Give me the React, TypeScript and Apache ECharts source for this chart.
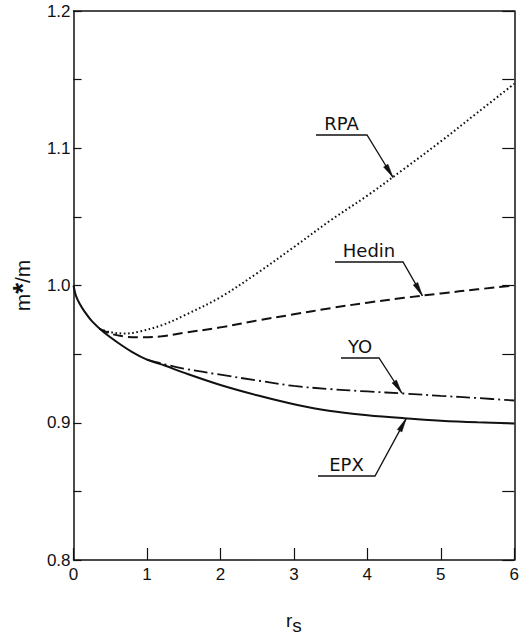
import React, { useEffect, useRef } from "react";
import * as echarts from "echarts";

// r_s tick labels
const rsTicks = [0, 1, 2, 3, 4, 5, 6];
// m*/m tick labels
const mTicks = [0.8, 0.9, 1.0, 1.1, 1.2];

// Series values: [r_s, m*/m]
const epx: [number, number][] = [
  [0, 1.0], [0.03, 0.993], [0.08, 0.987], [0.15, 0.981], [0.25, 0.974],
  [0.4, 0.9665], [0.6, 0.9585], [0.8, 0.9515], [1.0, 0.946], [1.25, 0.9415],
  [1.5, 0.9365], [2.0, 0.9275], [2.5, 0.92], [3.0, 0.9135], [3.5, 0.9085],
  [4.0, 0.9055], [4.5, 0.9033], [5.0, 0.9015], [5.5, 0.9003], [6.0, 0.8995],
];
const yo: [number, number][] = [
  [1.0, 0.946], [1.25, 0.9425], [1.5, 0.9395], [2.0, 0.935], [2.5, 0.9308],
  [3.0, 0.9268], [3.5, 0.9245], [4.0, 0.9228], [4.5, 0.9213], [5.0, 0.9196],
  [5.5, 0.918], [6.0, 0.9162],
];
const hedin: [number, number][] = [
  [0.35, 0.9685], [0.5, 0.965], [0.7, 0.9628], [0.9, 0.9622], [1.2, 0.963],
  [1.5, 0.9655], [2.0, 0.9695], [2.5, 0.9745], [3.0, 0.979], [3.5, 0.9835],
  [4.0, 0.9875], [4.5, 0.991], [5.0, 0.9942], [5.5, 0.9972], [6.0, 1.0],
];
const rpa: [number, number][] = [
  [0.35, 0.9685], [0.5, 0.966], [0.7, 0.965], [0.9, 0.9665], [1.2, 0.971],
  [1.5, 0.978], [2.0, 0.9915], [2.5, 1.009], [3.0, 1.028], [3.5, 1.0475],
  [4.0, 1.0655], [4.5, 1.085], [5.0, 1.105], [5.5, 1.126], [6.0, 1.147],
];

// Annotation labels and the data point each arrow points to
const labelNames = ["RPA", "Hedin", "YO", "EPX"];
const arrowTargets: [number, number][] = [
  [4.35, 1.0787], [4.75, 0.9924], [4.47, 0.9215], [4.53, 0.9032],
];

// layout of annotation labels (pixels): underline x0, x1, y
const labelLayout = [
  { x0: 316, x1: 367, y: 135 },
  { x0: 335, x1: 403, y: 262 },
  { x0: 341, x1: 379, y: 358 },
  { x0: 318, x1: 375, y: 476 },
];

const INK = "#111";
const FONT = "'Liberation Sans', Arial, sans-serif";

export default function App() {
  const ref = useRef<HTMLDivElement>(null);
  useEffect(() => {
    if (!ref.current) return;
    const chart = echarts.init(ref.current, null, { renderer: "svg" });
    const axisLine = { show: true, onZero: false, lineStyle: { color: INK, width: 1.5 } };
    const lineSeries = (name: string, data: [number, number][], type: any, width: number) => ({
      name,
      type: "line",
      data,
      showSymbol: false,
      smooth: 0.35,
      lineStyle: { color: INK, width, type, cap: "butt" },
      silent: true,
    });
    chart.setOption({
      animation: false,
      backgroundColor: "#fff",
      grid: { left: 73, right: 4, top: 11, bottom: 74, containLabel: false },
      xAxis: [
        {
          type: "value", min: rsTicks[0], max: rsTicks[rsTicks.length - 1], interval: 1, position: "bottom",
          axisLine, splitLine: { show: false },
          axisTick: { show: true, inside: true, length: 12, lineStyle: { color: INK, width: 1.2 } },
          axisLabel: { color: INK, fontSize: 17, fontFamily: FONT, margin: 6 },
          name: "{r|r}{s|s}", nameLocation: "middle", nameGap: 51,
          nameTextStyle: {
            color: INK, fontFamily: FONT,
            rich: {
              r: { fontSize: 19, fontFamily: FONT, color: INK, lineHeight: 24, verticalAlign: "top" },
              s: { fontSize: 19, fontFamily: FONT, color: INK, lineHeight: 24, verticalAlign: "bottom" },
            },
          },
        },
        {
          type: "value", min: 0, max: 6, position: "top", axisLine,
          axisTick: { show: false }, axisLabel: { show: false }, splitLine: { show: false },
        },
      ],
      yAxis: [
        {
          type: "value", min: mTicks[0], max: mTicks[mTicks.length - 1], interval: 0.1, position: "left",
          axisLine, splitLine: { show: false },
          axisTick: { show: true, inside: true, length: 8, lineStyle: { color: INK, width: 1.2 } },
          minorTick: { show: true, splitNumber: 2, length: 8, lineStyle: { color: INK, width: 1.2 } },
          minorSplitLine: { show: false },
          axisLabel: { color: INK, fontSize: 17, fontFamily: FONT, margin: 3, formatter: (v: number) => v.toFixed(1) },
          name: "{m|m}{a|*}{m|/m}", nameLocation: "middle", nameRotate: 90, nameGap: 33,
          nameTextStyle: {
            color: INK,
            rich: {
              m: { fontSize: 21, fontFamily: FONT, color: INK },
              a: { fontSize: 28, fontWeight: "bold", fontFamily: FONT, color: INK },
            },
          },
        },
        {
          type: "value", min: 0.8, max: 1.2, interval: 0.05, position: "right",
          axisLine, splitLine: { show: false },
          axisTick: { show: true, inside: true, length: 12, lineStyle: { color: INK, width: 1.2 } },
          axisLabel: { show: false },
        },
      ],
      series: [
        lineSeries("EPX", epx, "solid", 2),
        lineSeries("YO", yo, [14, 4, 2, 4], 1.8),
        lineSeries("Hedin", hedin, [10, 5], 2),
        lineSeries("RPA", rpa, [1.6, 2.6], 2),
      ],
    });

    const elements: any[] = [];
    labelNames.forEach((name, i) => {
      const lay = labelLayout[i];
      const tip = chart.convertToPixel({ xAxisIndex: 0, yAxisIndex: 0 }, arrowTargets[i]) as number[];
      elements.push({
        type: "text",
        x: (lay.x0 + lay.x1) / 2,
        y: lay.y - 3,
        silent: true,
        style: {
          text: name, fill: INK, font: `18px 'DejaVu Sans', sans-serif`,
          align: "center", verticalAlign: "bottom",
        },
      });
      elements.push({
        type: "polyline", silent: true,
        shape: { points: [[lay.x0, lay.y], [lay.x1, lay.y], [tip[0], tip[1]]] },
        style: { stroke: INK, lineWidth: 1.3, fill: null },
      });
      const dx = tip[0] - lay.x1, dy = tip[1] - lay.y;
      const len = Math.sqrt(dx * dx + dy * dy);
      const ux = dx / len, uy = dy / len;
      const L = 14, w = 2.6;
      const bx = tip[0] - ux * L, by = tip[1] - uy * L;
      elements.push({
        type: "polygon", silent: true,
        shape: { points: [[tip[0], tip[1]], [bx - uy * w, by + ux * w], [bx + uy * w, by - ux * w]] },
        style: { fill: INK, stroke: INK, lineWidth: 0.5 },
      });
    });
    chart.setOption({ graphic: { elements } });

    return () => chart.dispose();
  }, []);
  return (
    <div
      ref={ref}
      style={{ position: "absolute", left: 0, top: 0, width: 522, height: 640, background: "#fff" }}
    />
  );
}
